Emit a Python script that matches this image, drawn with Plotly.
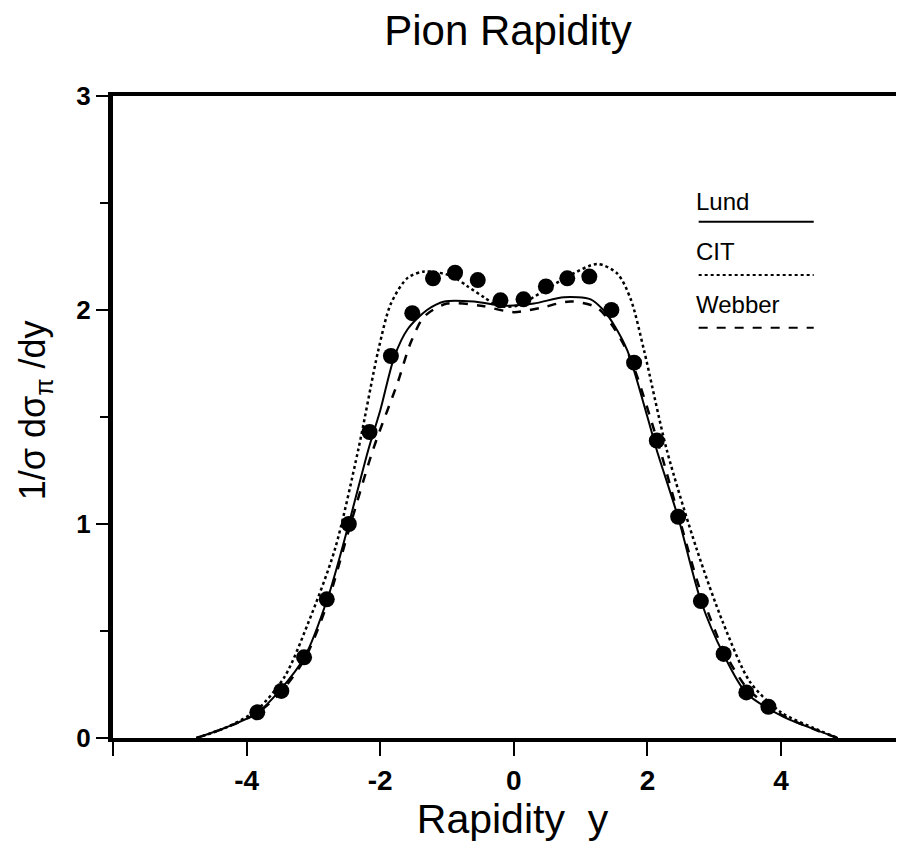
import plotly.graph_objects as go

# measured pion rapidity points
data_y = [-3.84, -3.48, -3.14, -2.80, -2.47, -2.16, -1.84, -1.52, -1.21, -0.88, -0.54, -0.20,
          0.145, 0.48, 0.80, 1.13, 1.46, 1.80, 2.14, 2.46, 2.80, 3.14, 3.48, 3.81]
data_val = [0.12, 0.22, 0.377, 0.648, 1.0, 1.43, 1.785, 1.985, 2.148, 2.174, 2.14, 2.045,
            2.05, 2.11, 2.148, 2.156, 2.0, 1.754, 1.39, 1.034, 0.64, 0.393, 0.213, 0.146]

# model curves
lund_y = [-4.75, -4.3, -3.85, -3.5, -3.13, -2.78, -2.48, -2.18, -2.0, -1.79, -1.59, -1.3, -1.04,
          -0.6, -0.15, 0.3, 0.75, 1.15, 1.34, 1.5, 1.70, 2.0, 2.14, 2.46, 2.8, 3.14, 3.48, 4.03, 4.53, 4.85]
lund_val = [0.0, 0.05, 0.115, 0.224, 0.38, 0.66, 0.99, 1.345, 1.53, 1.78, 1.91, 2.0, 2.04,
            2.04, 2.02, 2.03, 2.06, 2.05, 2.0, 1.93, 1.81, 1.5, 1.345, 1.03, 0.64, 0.39, 0.21, 0.1, 0.037, 0.0]

webber_y = [-4.75, -4.3, -3.85, -3.5, -3.13, -2.8, -2.48, -2.11, -1.74, -1.54, -1.34, -1.0, -0.5,
            0.0, 0.4, 0.85, 1.25, 1.49, 1.75, 2.19, 2.5, 2.8, 3.14, 3.5, 4.0, 4.5, 4.85]
webber_val = [0.0, 0.05, 0.115, 0.21, 0.37, 0.62, 0.96, 1.345, 1.66, 1.85, 1.97, 2.03, 2.02,
              1.99, 2.01, 2.04, 2.01, 1.92, 1.77, 1.345, 1.0, 0.68, 0.41, 0.23, 0.11, 0.04, 0.0]

cit_y = [-4.75, -4.3, -3.85, -3.43, -3.08, -2.68, -2.33, -2.03, -1.84, -1.59, -1.34, -0.94, -0.69,
         -0.45, -0.24, 0.05, 0.40, 0.80, 1.25, 1.55, 1.75, 1.95, 2.29, 2.74, 3.13, 3.54, 4.0, 4.5, 4.85]
cit_val = [0.0, 0.05, 0.13, 0.287, 0.536, 0.88, 1.345, 1.81, 2.03, 2.15, 2.18, 2.16, 2.11,
           2.06, 2.02, 2.02, 2.08, 2.155, 2.215, 2.17, 2.05, 1.81, 1.345, 0.88, 0.54, 0.26, 0.12, 0.045, 0.0]

legend_names = ["Lund", "CIT", "Webber"]
legend_dash = ["solid", "dot", "dash"]

FONT = "Liberation Sans, Arial, sans-serif"

fig = go.Figure()
fig.add_trace(go.Scatter(x=lund_y, y=lund_val, mode="lines", line_shape="spline",
                         line=dict(color="black", width=2, dash="solid", smoothing=0.8), name="Lund"))
fig.add_trace(go.Scatter(x=cit_y, y=cit_val, mode="lines", line_shape="spline",
                         line=dict(color="black", width=2.5, dash="dot", smoothing=0.8), name="CIT"))
fig.add_trace(go.Scatter(x=webber_y, y=webber_val, mode="lines", line_shape="spline",
                         line=dict(color="black", width=2.5, dash="dash", smoothing=0.8), name="Webber"))
fig.add_trace(go.Scatter(x=data_y, y=data_val, mode="markers",
                         marker=dict(color="black", size=16), name="data"))

# hand-drawn style legend: label above a line sample
legend_text_y = [0.812, 0.734, 0.651]
legend_line_y = [0.804, 0.721, 0.639]
for nm, ds, ty, ly in zip(legend_names, legend_dash, legend_text_y, legend_line_y):
    fig.add_annotation(x=0.727, y=ty, xref="paper", yref="paper", text=nm,
                       showarrow=False, xanchor="left", yanchor="bottom",
                       font=dict(family=FONT, size=24, color="black"))
    fig.add_shape(type="line", xref="paper", yref="paper",
                  x0=0.733, x1=0.877, y0=ly, y1=ly,
                  line=dict(color="black", width=2, dash=ds))

# y axis title as rotated annotation
fig.add_annotation(x=-0.098, y=0.51, xref="paper", yref="paper",
                   text="1/σ dσ<sub>π</sub> /dy", textangle=-90, showarrow=False,
                   xanchor="center", yanchor="middle",
                   font=dict(family=FONT, size=36, color="black"))

fig.update_layout(
    width=904, height=861,
    margin=dict(l=105, r=0, t=88, b=131),
    paper_bgcolor="white", plot_bgcolor="white",
    showlegend=False,
    title=dict(text="Pion Rapidity", x=0.553, xanchor="center", y=0.974, yanchor="middle",
               font=dict(family=FONT, size=42, color="black")),
    font=dict(family=FONT, color="black"),
)
fig.update_xaxes(
    range=[-6, 5.96], showgrid=False, zeroline=False,
    showline=True, linecolor="black", linewidth=4, mirror=True,
    tickmode="array", tickvals=[-6, -4, -2, 0, 2, 4], ticktext=["", "-4", "-2", "0", "2", "4"],
    ticks="outside", ticklen=14, tickwidth=2, tickcolor="black",
    tickfont=dict(family=FONT, size=28, color="black", weight="bold"),
    title=dict(text="Rapidity  y", font=dict(family=FONT, size=41, color="black"), standoff=10),
)
fig.update_yaxes(
    range=[0, 3], showgrid=False, zeroline=False,
    showline=True, linecolor="black", linewidth=5, mirror=False,
    tickmode="array", tickvals=[0, 1, 2, 3], ticktext=["0", "1", "2", "3"],
    ticks="outside", ticklen=12, tickwidth=2, tickcolor="black",
    tickfont=dict(family=FONT, size=26, color="black", weight="bold"),
    minor=dict(tickvals=[0.5, 1.5, 2.5], ticks="outside", ticklen=8, tickwidth=2, tickcolor="black"),
)

fig.write_html("out.html")
